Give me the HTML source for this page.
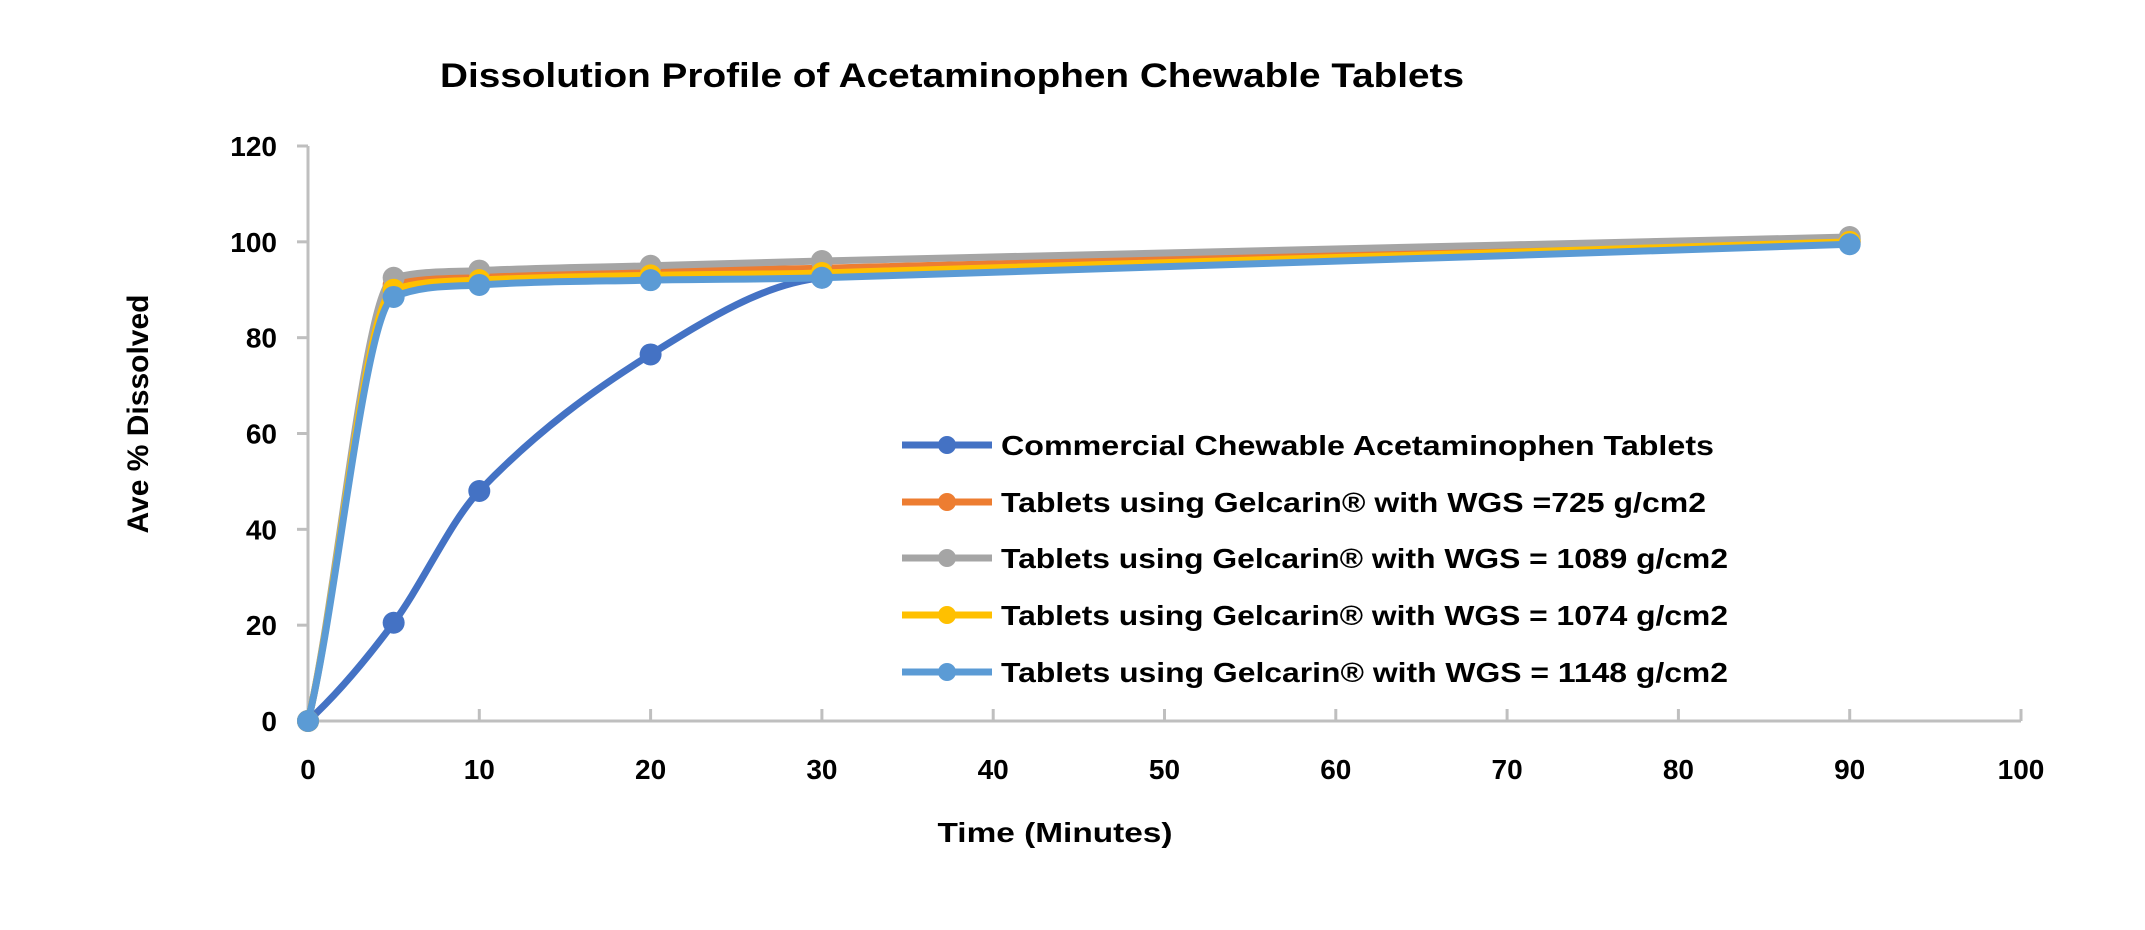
<!DOCTYPE html>
<html><head><meta charset="utf-8"><style>
body{margin:0;background:#fff}
svg{display:block;font-family:"Liberation Sans",sans-serif;font-weight:bold}
</style></head><body>
<svg id="chart" width="2145" height="930" viewBox="0 0 2145 930">
<text x="440" y="87" font-size="34" textLength="1024" lengthAdjust="spacingAndGlyphs">Dissolution Profile of Acetaminophen Chewable Tablets</text>
<text transform="translate(148,414) rotate(-90)" text-anchor="middle" font-size="30">Ave % Dissolved</text>
<text x="1055" y="842" text-anchor="middle" font-size="28" textLength="235" lengthAdjust="spacingAndGlyphs">Time (Minutes)</text>
<g id="axes"></g>
<g id="series"></g>
<g id="legend"></g>
</svg>
<script>
const xTicks=[0,10,20,30,40,50,60,70,80,90,100];
const yTicks=[0,20,40,60,80,100,120];
const times=[0,5,10,20,30,90];
const seriesNames=["Commercial Chewable Acetaminophen Tablets","Tablets using Gelcarin® with WGS =725 g/cm2","Tablets using Gelcarin® with WGS = 1089 g/cm2","Tablets using Gelcarin® with WGS = 1074 g/cm2","Tablets using Gelcarin® with WGS = 1148 g/cm2"];
const commercial=[0,20.5,48,76.5,92.5,100.5];
const wgs725=[0,91,93,94,94.5,100];
const wgs1089=[0,92.5,94,95,96,101];
const wgs1074=[0,90,92,93,93.5,100];
const wgs1148=[0,88.5,91,92,92.5,99.5];
const seriesColors=["#4472c4","#ed7d31","#a5a5a5","#ffc000","#5b9bd5"];
const allSeries=[commercial,wgs725,wgs1089,wgs1074,wgs1148];

const NS="http://www.w3.org/2000/svg";
const X=v=>308+v*(2021-308)/100;
const Y=v=>721-v*(721-146)/120;
function mk(tag,attrs,parent){const e=document.createElementNS(NS,tag);for(const k in attrs)e.setAttribute(k,attrs[k]);parent.appendChild(e);return e;}
const axes=document.getElementById('axes');
let a=mk('line',{x1:X(0),y1:Y(0),x2:X(100),y2:Y(0),stroke:'#bfbfbf','stroke-width':3},axes);


a=mk('line',{x1:X(0),y1:Y(0),x2:X(0),y2:Y(120),stroke:'#bfbfbf','stroke-width':3},axes);


xTicks.forEach(t=>{
  const l=mk('line',{x1:X(t),y1:Y(0),x2:X(t),y2:Y(0)-12,stroke:'#bfbfbf','stroke-width':3},axes);
  
  
  const tx=mk('text',{x:X(t),y:779,'text-anchor':'middle','font-size':28},axes);
  tx.textContent=t;
  
  
});
yTicks.forEach(t=>{
  const l=mk('line',{x1:X(0)-11,y1:Y(t),x2:X(0),y2:Y(t),stroke:'#bfbfbf','stroke-width':3},axes);
  
  
  const tx=mk('text',{x:277,y:Y(t)+10,'text-anchor':'end','font-size':28},axes);
  tx.textContent=t;
  
  
});
function smooth(xs,ys){
  const n=xs.length,s=[],m=[];
  for(let i=0;i<n-1;i++)s.push((ys[i+1]-ys[i])/(xs[i+1]-xs[i]));
  for(let i=0;i<n;i++){
    if(i===0)m.push(s[0]*0.8);else if(i===n-1)m.push(s[n-2]);
    else{
      const c=(ys[i+1]-ys[i-1])/(xs[i+1]-xs[i-1]);
      const lim=3*Math.min(Math.abs(s[i-1]),Math.abs(s[i]));
      m.push(Math.sign(c)*Math.min(Math.abs(c),lim));
    }
  }
  let d=`M${X(xs[0])},${Y(ys[0])}`;
  for(let i=0;i<n-1;i++){
    const h=xs[i+1]-xs[i];
    const c1x=xs[i]+h/3,c1y=ys[i]+m[i]*h/3;
    const c2x=xs[i+1]-h/3,c2y=ys[i+1]-m[i+1]*h/3;
    d+=` C${X(c1x)},${Y(c1y)} ${X(c2x)},${Y(c2y)} ${X(xs[i+1])},${Y(ys[i+1])}`;
  }
  return d;
}
const sg=document.getElementById('series');
allSeries.forEach((vals,si)=>{
  const g=mk('g',{},sg);
  
  
  const p=mk('path',{d:smooth(times,vals),fill:'none',stroke:seriesColors[si],'stroke-width':7,'stroke-linejoin':'round'},g);
  
  
  times.forEach((t,i)=>{
    const c=mk('circle',{cx:X(t),cy:Y(vals[i]),r:11,fill:seriesColors[si]},g);
    
    
  });
});
const lg=document.getElementById('legend');
const rowY=[445,502,558,615,672];
const textLens=[713,705,727,727,727];
seriesNames.forEach((n,i)=>{
  const g=mk('g',{},lg);
  
  
  const l=mk('line',{x1:902,y1:rowY[i],x2:992,y2:rowY[i],stroke:seriesColors[i],'stroke-width':7},g);
  
  
  const c=mk('circle',{cx:947,cy:rowY[i],r:9,fill:seriesColors[i]},g);
  
  
  const t=mk('text',{x:1001,y:rowY[i]+10,'font-size':28,textLength:textLens[i],lengthAdjust:'spacingAndGlyphs'},g);
  t.textContent=n;
  
  
});
</script>
</body></html>
